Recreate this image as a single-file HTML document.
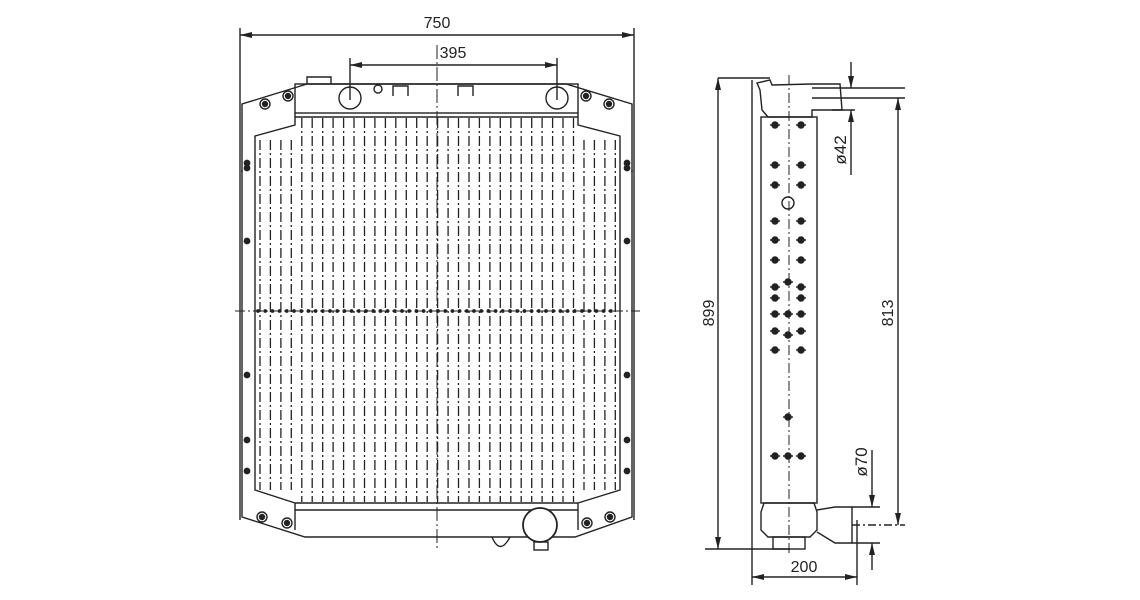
<!DOCTYPE html>
<html><head><meta charset="utf-8"><style>
html,body{margin:0;padding:0;background:#fff;width:1140px;height:600px;overflow:hidden}
svg{display:block}
text{font-family:"Liberation Sans",sans-serif;fill:#222}
</style></head><body>
<svg id="s" width="1140" height="600" viewBox="0 0 1140 600" xmlns="http://www.w3.org/2000/svg" stroke="#222" fill="none" stroke-width="1.4">
<defs>
<marker id="a" markerWidth="12" markerHeight="6" refX="12" refY="3" orient="auto-start-reverse" markerUnits="userSpaceOnUse"><path d="M0,0 L12,3 L0,6 Z" fill="#222" stroke="none"/></marker>
</defs>
<line x1="240" y1="28" x2="240" y2="520"/>
<line x1="634" y1="28" x2="634" y2="520"/>
<line x1="240" y1="35" x2="634" y2="35" marker-start="url(#a)" marker-end="url(#a)"/>
<text x="437" y="28" font-size="16" text-anchor="middle" stroke="none">750</text>
<line x1="350" y1="58" x2="350" y2="100"/>
<line x1="557" y1="58" x2="557" y2="100"/>
<line x1="350" y1="65" x2="557" y2="65" marker-start="url(#a)" marker-end="url(#a)"/>
<text x="453" y="58" font-size="16" text-anchor="middle" stroke="none">395</text>
<path d="M307,84 L566,84 L632,104 L632,172 M242,172 L242,104 L307,84"/>
<rect x="295" y="84" width="283" height="29"/>
<line x1="295" y1="117" x2="578" y2="117"/>
<path d="M295,113 L295,125 L255,136 L255,490 L295,503 M578,113 L578,125 L620,136 L620,490 L578,503"/>
<path d="M307,84 L307,77 L331,77 L331,84" />
<circle cx="350" cy="98" r="11"/><circle cx="557" cy="98" r="11"/>
<circle cx="378" cy="89" r="4"/>
<path d="M393,96 L393,86 L408,86 L408,96 M458,96 L458,86 L473,86 L473,96"/>
<path d="M242,170 L242,517 L305,537 L575,537 L632,517 L632,170"/>
<line x1="295" y1="503" x2="578" y2="503"/>
<line x1="295" y1="510" x2="578" y2="510"/>
<line x1="295" y1="503" x2="295" y2="530"/><line x1="578" y1="503" x2="578" y2="530"/>
<circle cx="540" cy="525" r="17" stroke-width="1.8" fill="#fff"/>
<path d="M492,537 Q500,556 510,537"/>
<rect x="534" y="542" width="14" height="8"/>
<g id="fins" stroke-width="1.3" stroke-dasharray="10,3,2,3"></g>
<line x1="437" y1="45" x2="437" y2="550" stroke-dasharray="14,3,2,3" stroke-width="1"/>
<line x1="235" y1="311" x2="640" y2="311" stroke-dasharray="10,3,2,3" stroke-width="1"/>
<g id="dots" fill="#222" stroke="none"></g>
<g id="bolts"></g>
<line x1="718" y1="78" x2="770" y2="78"/>
<line x1="705" y1="549" x2="790" y2="549"/>
<line x1="718" y1="78" x2="718" y2="549" marker-start="url(#a)" marker-end="url(#a)"/>
<text transform="translate(714,313) rotate(-90)" font-size="16" text-anchor="middle" stroke="none">899</text>
<line x1="752" y1="80" x2="752" y2="585"/>
<line x1="857" y1="520" x2="857" y2="585"/>
<line x1="752" y1="577" x2="857" y2="577" marker-start="url(#a)" marker-end="url(#a)"/>
<text x="804" y="572" font-size="16" text-anchor="middle" stroke="none">200</text>
<rect x="761" y="117" width="56" height="386"/>
<path d="M757,83 L770,80 L772,85 L812,84 L840,84 L842,110 L812,110 L812,117 L768,117 L762,110 L760,90 Z"/>
<line x1="812" y1="88" x2="905" y2="88"/><line x1="812" y1="98" x2="905" y2="98"/>
<line x1="832" y1="110" x2="855" y2="110"/>
<line x1="851" y1="62" x2="851" y2="88" marker-end="url(#a)"/>
<line x1="851" y1="175" x2="851" y2="110" marker-end="url(#a)"/>
<text transform="translate(846,150) rotate(-90)" font-size="17" text-anchor="middle" stroke="none">ø42</text>
<line x1="898" y1="98" x2="898" y2="525" marker-start="url(#a)" marker-end="url(#a)"/>
<text transform="translate(893,313) rotate(-90)" font-size="16" text-anchor="middle" stroke="none">813</text>
<path d="M764,503 L814,503 L817,512 L817,530 L810,537 L768,537 L761,530 L761,512 Z"/>
<rect x="773" y="537" width="32" height="12"/>
<path d="M817,510 L835,507 L852,507 L852,543 L835,543 L817,532"/>
<line x1="852" y1="507" x2="880" y2="507"/><line x1="852" y1="543" x2="880" y2="543"/>
<line x1="852" y1="525" x2="905" y2="525" stroke-dasharray="8,3,2,3"/>
<line x1="872" y1="450" x2="872" y2="507" marker-end="url(#a)"/>
<line x1="872" y1="570" x2="872" y2="543" marker-end="url(#a)"/>
<text transform="translate(867,462) rotate(-90)" font-size="17" text-anchor="middle" stroke="none">ø70</text>
<line x1="789" y1="75" x2="789" y2="555" stroke-dasharray="10,3,2,3" stroke-width="1"/>
<g id="side"></g>
</svg>
<script>
var ns="http://www.w3.org/2000/svg";
function el(p,t,a){var e=document.createElementNS(ns,t);for(var k in a)e.setAttribute(k,a[k]);document.getElementById(p).appendChild(e);return e;}
for(var x=260;x<=618;x+=10.45){var y1=(x<295||x>578)?140:118;var y2=(x<295||x>578)?490:502;el("fins","line",{x1:x.toFixed(1),y1:y1,x2:x.toFixed(1),y2:y2});}
for(var x=258;x<=618;x+=7.2){el("dots","circle",{cx:x.toFixed(1),cy:311,r:1.9});}
[[265,104],[288,96],[586,96],[609,104],[262,517],[287,523],[587,523],[610,517]].forEach(function(p){el("bolts","circle",{cx:p[0],cy:p[1],r:5});el("bolts","circle",{cx:p[0],cy:p[1],r:2.5,fill:"#222"});});
[163,168,241,375,440,471].forEach(function(y){el("bolts","circle",{cx:247,cy:y,r:2.7,fill:"#222"});el("bolts","circle",{cx:627,cy:y,r:2.7,fill:"#222"});});
[[775,125],[801,125],[775,165],[801,165],[775,185],[801,185],[775,221],[801,221],[775,240],[801,240],[775,260],[801,260],[775,287],[801,287],[788,282],[775,298],[801,298],[788,314],[775,314],[801,314],[775,331],[801,331],[788,335],[775,350],[801,350],[788,417],[775,456],[788,456],[801,456]].forEach(function(p){el("side","circle",{cx:p[0],cy:p[1],r:3,fill:"#222"});el("side","line",{x1:p[0]-5,y1:p[1],x2:p[0]+5,y2:p[1]});});
el("side","circle",{cx:788,cy:203,r:6});
</script>
</body></html>
